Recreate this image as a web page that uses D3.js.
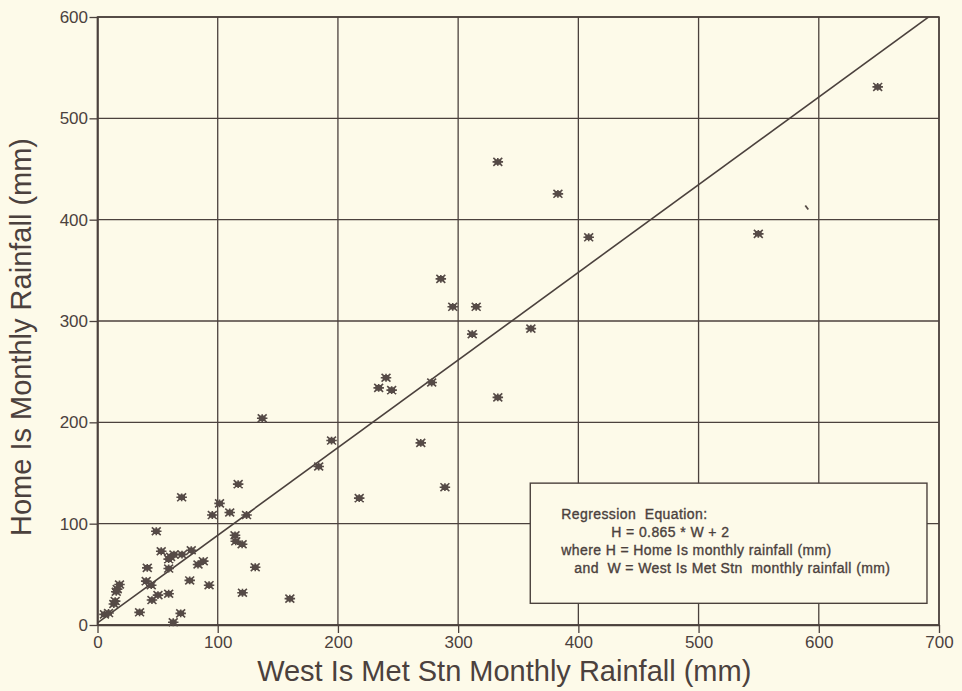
<!DOCTYPE html>
<html>
<head>
<meta charset="utf-8">
<script src="https://cdn.jsdelivr.net/npm/d3@7"></script>
<style>
  html, body { margin: 0; padding: 0; background: #fdfae9; }
  svg { display: block; font-family: "Liberation Sans", Arial, Helvetica, sans-serif; }
</style>
</head>
<body>
<svg id="chart" width="962" height="691"></svg>
<script>
// Monthly rainfall pairs: West Is Met Stn (W, mm) vs Home Is (H, mm)
const westRain = [
  5.8, 9.2, 13.6, 14.7, 15.6, 16.4, 18.3, 35, 40.5, 44.7,
  41.4, 45.3, 48.9, 50.3, 53, 59.2, 60.8, 63.6, 59.2, 59.2,
  63, 69.2, 70.3, 70, 76.7, 78, 83.6, 88, 92.8, 95.5,
  101.5, 110, 114.4, 115, 120.3, 117, 124, 120.6, 131.2, 160,
  137, 184, 194.7, 217.7, 233.9, 240, 244.7, 268.9, 278, 285.6,
  289, 295.5, 315, 311.7, 333, 360.5, 333, 383, 408.6, 549.7,
  649
];
const homeRain = [
  10.5, 11.8, 20.7, 23.6, 32.8, 35.4, 40, 12.5, 43.3, 39.3,
  56.4, 24.6, 92.5, 29.5, 72.8, 65, 67.2, 69.5, 55.7, 30.8,
  2.7, 11.5, 69.5, 126, 44, 73.8, 59.7, 63, 39.3, 108.5,
  120, 111, 88.5, 82.6, 79.7, 139, 108.5, 31.8, 57, 26,
  204, 156.4, 182, 125.2, 234, 244, 231.8, 179.7, 239.3, 341.6,
  136, 314, 314, 287, 224.6, 292.5, 457, 425.5, 382.6, 386,
  531
];
// one faintly printed observation
const faintWest = [590];
const faintHome = [412];

const xTicks = [0, 100, 200, 300, 400, 500, 600, 700];
const yTicks = [0, 100, 200, 300, 400, 500, 600];

const regSlope = 0.865;
const regIntercept = 2;

const equationLines = [
  "Regression  Equation:",
  "H = 0.865 * W + 2",
  "where H = Home Is monthly rainfall (mm)",
  "and  W = West Is Met Stn  monthly rainfall (mm)"
];

const xTitle = "West Is Met Stn Monthly Rainfall (mm)";
const yTitle = "Home Is Monthly Rainfall (mm)";

// ---- layout ----
const ink = "#4b413d";
const markInk = "#554a46";
const paper = "#fdfae9";
const svg = d3.select("#chart");
const plotLeft = 97.5, plotTop = 17, plotRight = 939, plotBottom = 625;

const x = d3.scaleLinear().domain([0, 700]).range([plotLeft, plotRight]);
const y = d3.scaleLinear().domain([0, 600]).range([plotBottom, plotTop]);

svg.append("rect").attr("width", 962).attr("height", 691).attr("fill", paper);

// grid
const grid = svg.append("g").attr("stroke", ink).attr("stroke-width", 1.3);
grid.selectAll("line.v").data(xTicks).join("line").attr("class", "v")
  .attr("x1", d => x(d)).attr("x2", d => x(d))
  .attr("y1", plotTop).attr("y2", plotBottom);
grid.selectAll("line.h").data(yTicks).join("line").attr("class", "h")
  .attr("y1", d => y(d)).attr("y2", d => y(d))
  .attr("x1", plotLeft).attr("x2", plotRight);

// axes
const xAxis = svg.append("g")
  .attr("transform", `translate(0,${plotBottom})`)
  .call(d3.axisBottom(x).tickValues(xTicks).tickSize(8).tickPadding(3).tickSizeOuter(0));
const yAxis = svg.append("g")
  .attr("transform", `translate(${plotLeft},0)`)
  .call(d3.axisLeft(y).tickValues(yTicks).tickSize(8).tickPadding(1.5).tickSizeOuter(0));
[xAxis, yAxis].forEach(g => {
  g.select(".domain").attr("stroke", ink).attr("stroke-width", 1.5);
  g.selectAll(".tick line").attr("stroke", ink).attr("stroke-width", 1.3);
  g.selectAll(".tick text").attr("fill", ink)
    .style("font-size", "17px").style("font-family", "'Liberation Sans', Arial, sans-serif");
});

// frame
svg.append("rect")
  .attr("x", plotLeft).attr("y", plotTop)
  .attr("width", plotRight - plotLeft).attr("height", plotBottom - plotTop)
  .attr("fill", "none").attr("stroke", ink).attr("stroke-width", 1.5);

// regression line, clipped to the plotting frame
svg.append("clipPath").attr("id", "plotClip")
  .append("rect").attr("x", plotLeft).attr("y", plotTop)
  .attr("width", plotRight - plotLeft).attr("height", plotBottom - plotTop);
const regW = [0, 700];
svg.append("path")
  .attr("clip-path", "url(#plotClip)")
  .attr("d", d3.line().x(d => x(d)).y(d => y(regSlope * d + regIntercept))(regW))
  .attr("fill", "none").attr("stroke", ink).attr("stroke-width", 1.6);

// star-like plotting mark
const starMark = {
  draw(ctx, size) {
    const r = Math.sqrt(size) / 2;
    const h = r * 0.75;
    ctx.moveTo(-r, 0); ctx.lineTo(r, 0);
    ctx.moveTo(-r * 0.85, -h); ctx.lineTo(r * 0.85, h);
    ctx.moveTo(-r * 0.85, h); ctx.lineTo(r * 0.85, -h);
    ctx.moveTo(0, -h); ctx.lineTo(0, h);
    ctx.moveTo(-r * 0.5, -h * 0.5);
    ctx.lineTo(r * 0.5, -h * 0.5);
    ctx.lineTo(r * 0.5, h * 0.5);
    ctx.lineTo(-r * 0.5, h * 0.5);
    ctx.closePath();
  }
};
const pts = westRain.map((w, i) => ({ w, h: homeRain[i] }));
svg.append("g").selectAll("path").data(pts).join("path")
  .attr("transform", d => `translate(${x(d.w)},${y(d.h)})`)
  .attr("d", d3.symbol().type(starMark).size(110)())
  .attr("fill", markInk).attr("stroke", markInk).attr("stroke-width", 1.6);

// faint observation: only a short stroke printed
svg.append("g").selectAll("line").data(faintWest.map((w, i) => ({ w, h: faintHome[i] }))).join("line")
  .attr("x1", d => x(d.w) - 1.5).attr("y1", d => y(d.h) - 2)
  .attr("x2", d => x(d.w) + 1.5).attr("y2", d => y(d.h) + 2)
  .attr("stroke", markInk).attr("stroke-width", 1.8);

// equation box
const bx0 = x(360), bx1 = x(690), by0 = y(140), by1 = y(21.4);
svg.append("rect")
  .attr("x", bx0).attr("y", by0).attr("width", bx1 - bx0).attr("height", by1 - by0)
  .attr("fill", paper).attr("stroke", ink).attr("stroke-width", 1.4);
const lineOffsets = [31, 81, 31, 44];
svg.append("g").selectAll("text").data(equationLines).join("text")
  .attr("x", (d, i) => bx0 + lineOffsets[i])
  .attr("y", (d, i) => by0 + 35.5 + i * 18)
  .attr("fill", ink)
  .attr("stroke", ink).attr("stroke-width", 0.35)
  .style("font-size", "14px")
  .style("letter-spacing", "0.4px")
  .style("white-space", "pre")
  .text(d => d);

// axis titles
svg.append("text")
  .attr("x", (plotLeft + plotRight) / 2 - 14).attr("y", 681)
  .attr("text-anchor", "middle").attr("fill", ink)
  .style("font-size", "29px")
  .text(xTitle);
svg.append("text")
  .attr("transform", `translate(31,${337}) rotate(-90)`)
  .attr("text-anchor", "middle").attr("fill", ink)
  .style("font-size", "29px")
  .text(yTitle);
</script>
</body>
</html>
